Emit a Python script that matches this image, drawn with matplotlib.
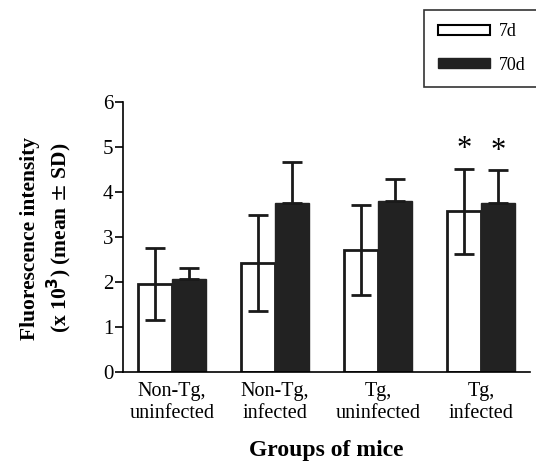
import numpy as np
import matplotlib.pyplot as plt
from matplotlib.patches import Patch

groups = ['Non-Tg,\nuninfected', 'Non-Tg,\ninfected', 'Tg,\nuninfected', 'Tg,\ninfected']
mean_7d = [1.95, 2.42, 2.71, 3.57]
sd_7d = [0.8, 1.06, 1.0, 0.95]
mean_70d = [2.06, 3.75, 3.8, 3.76]
sd_70d = [0.25, 0.92, 0.5, 0.72]
signif = [False, False, False, True]

plt.rcParams['font.family'] = ['Liberation Serif', 'DejaVu Serif']

fig = plt.figure(figsize=(5.36, 4.67), dpi=100)
ax = fig.add_axes([0.2295, 0.2034, 0.759, 0.578])

x = np.arange(len(groups))
w = 0.33
ax.bar(x - w / 2, mean_7d, w, color='white', edgecolor='#1a1a1a', linewidth=2)
ax.bar(x + w / 2, mean_70d, w, color='#222222', edgecolor='#222222', linewidth=1)
ax.errorbar(x - w / 2, mean_7d, yerr=sd_7d, fmt='none', ecolor='#1a1a1a',
            elinewidth=2, capsize=7, capthick=2)
ax.errorbar(x + w / 2, mean_70d, yerr=[np.zeros(len(sd_70d)), sd_70d], fmt='none',
            ecolor='#1a1a1a', elinewidth=2, capsize=7, capthick=2)

for i, s in enumerate(signif):
    if s:
        ax.text(x[i] - w / 2, mean_7d[i] + sd_7d[i] + 0.1, '*', ha='center', va='bottom', fontsize=22)
        ax.text(x[i] + w / 2, mean_70d[i] + sd_70d[i] + 0.1, '*', ha='center', va='bottom', fontsize=22)

ax.set_xlim(-0.476, 3.476)
ax.set_ylim(0, 6)
ax.set_yticks(range(7))
ax.tick_params(axis='y', labelsize=15, length=6, width=1.2, direction='out', pad=1)
ax.set_xticks(x)
ax.set_xticklabels(groups, fontsize=14.5, linespacing=1.25)
ax.tick_params(axis='x', length=0, pad=7)
ax.spines['top'].set_visible(False)
ax.spines['right'].set_visible(False)
ax.spines['left'].set_linewidth(1.2)
ax.spines['bottom'].set_linewidth(1.2)

ax.set_xlabel('Groups of mice', fontsize=17, fontweight='bold', labelpad=12)
fig.text(0.056, 0.49, 'Fluorescence intensity', rotation=90, ha='center', va='center',
         fontsize=15.5, fontweight='bold')
fig.text(0.11, 0.49, r'(x 10$^{\mathbf{3}}$) (mean $\pm$ SD)', rotation=90, ha='center', va='center',
         fontsize=15.5, fontweight='bold')

handles = [Patch(facecolor='white', edgecolor='black', linewidth=1.5, label='7d'),
           Patch(facecolor='#222222', edgecolor='#222222', label='70d')]
leg = fig.legend(handles=handles, loc='upper left', bbox_to_anchor=(0.791, 0.979),
                 fontsize=13, frameon=True, fancybox=False, edgecolor='black',
                 handlelength=2.9, handleheight=0.5, labelspacing=0.9, borderpad=0.75,
                 handletextpad=0.5, borderaxespad=0)
leg.get_frame().set_linewidth(1.2)

fig.savefig('out.png', dpi=100)
